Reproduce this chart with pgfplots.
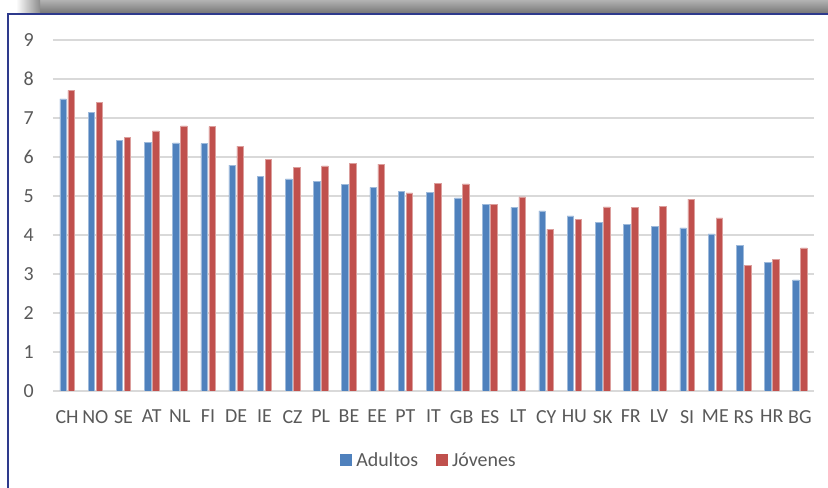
\documentclass[border=0pt]{standalone}
\usepackage{pgfplots}
\pgfplotsset{compat=1.18}
\usepackage{fontspec}
\setmainfont{Carlito}

\definecolor{adultos}{HTML}{4F81BD}
\definecolor{jovenes}{HTML}{C0504D}
\definecolor{txt}{HTML}{595959}
\definecolor{gridc}{HTML}{D9D9D9}
\definecolor{frame}{HTML}{2E3A8C}

\pgfplotstableread{
idx Adultos Jovenes
0  7.49 7.71
1  7.14 7.40
2  6.42 6.51
3  6.37 6.67
4  6.36 6.80
5  6.34 6.78
6  5.79 6.28
7  5.50 5.93
8  5.44 5.74
9  5.38 5.77
10 5.30 5.83
11 5.22 5.82
12 5.11 5.08
13 5.09 5.32
14 4.95 5.31
15 4.79 4.79
16 4.71 4.98
17 4.62 4.15
18 4.49 4.41
19 4.32 4.72
20 4.28 4.71
21 4.23 4.74
22 4.18 4.92
23 4.03 4.44
24 3.74 3.23
25 3.30 3.38
26 2.85 3.67
}\datatable

\begin{document}
\begin{tikzpicture}
  \useasboundingbox (0,0) rectangle (828bp,488bp);
  % shadow band and frame
  \shade[top color=black!30, bottom color=black!55] (40bp,474bp) rectangle (828bp,488bp);
  \shade[left color=white, right color=black!45] (16bp,474bp) rectangle (40bp,488bp);
  \draw[frame, line width=1.4bp] (8bp,0bp) -- (8bp,474bp) -- (828bp,474bp);

  \begin{axis}[
      at={(53bp,97bp)}, anchor=south west,
      scale only axis,
      width=761bp, height=351bp,
      ybar=1.5bp, bar width=6.5bp,
      xmin=-0.5, xmax=26.5,
      ymin=0, ymax=9,
      ytick={0,1,...,9},
      xtick=data,
      xticklabels={CH,NO,SE,AT,NL,FI,DE,IE,CZ,PL,BE,EE,PT,IT,GB,ES,LT,CY,HU,SK,FR,LV,SI,ME,RS,HR,BG},
      major tick length=0pt,
      axis line style={draw=none},
      ymajorgrids,
      major grid style={draw=gridc, line width=1.2bp},
      tick label style={font=\fontsize{20}{22}\selectfont, text=txt, inner sep=0pt},
      /pgf/number format/assume math mode=true,
      yticklabel style={xshift=-19bp},
      xticklabel style={yshift=-19bp},
      legend columns=2,
      legend style={
        at={(0.4928,-0.1966)}, anchor=center,
        draw=none, fill=none,
        font=\fontsize{20}{22}\selectfont, text=txt,
        inner sep=0pt,
        nodes={inner sep=0pt},
        /tikz/every odd column/.append style={column sep=4bp},
        /tikz/every even column/.append style={column sep=18bp},
      },
      legend cell align=left,
      legend image code/.code={\fill[#1, draw=none] (0bp,-6bp) rectangle (12bp,6bp);},
    ]
    \addplot[fill=adultos, draw=adultos!55!white, line width=0.5bp] table[x=idx, y=Adultos] {\datatable};
    \addplot[fill=jovenes, draw=jovenes!55!white, line width=0.5bp] table[x=idx, y=Jovenes] {\datatable};
    \legend{Adultos, Jóvenes}
  \end{axis}
\end{tikzpicture}
\end{document}
